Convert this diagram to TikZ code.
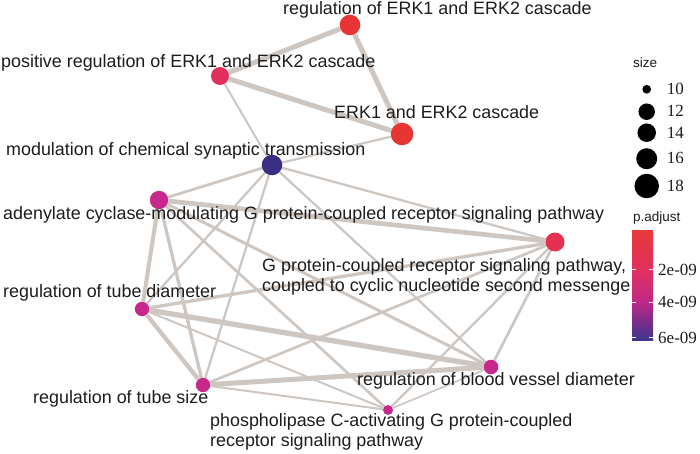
\documentclass[tikz,border=0pt]{standalone}
\usepackage{fontspec}
\setmainfont{Liberation Sans}
\newfontfamily\legserif{Liberation Serif}
\usetikzlibrary{backgrounds}
\definecolor{edgec}{RGB}{205,198,193}
\definecolor{txt}{RGB}{28,28,28}
\definecolor{cRed}{RGB}{232,52,52}
\definecolor{cRedB}{RGB}{229,54,50}
\definecolor{cPinkRed}{RGB}{226,48,92}
\definecolor{cGcyc}{RGB}{229,48,80}
\definecolor{cNavy}{RGB}{58,46,130}
\definecolor{cMag}{RGB}{198,40,140}
\definecolor{barA}{RGB}{232,56,56}
\definecolor{barB}{RGB}{224,48,96}
\definecolor{barC}{RGB}{190,40,135}
\definecolor{barD}{RGB}{120,45,140}
\definecolor{barE}{RGB}{62,55,140}
\begin{document}
\begin{tikzpicture}[x=1pt,y=-1pt,
  gnode/.style={circle,inner sep=0pt,draw=none},
  lab/.style={anchor=base west,inner sep=0pt,text=txt,font=\fontsize{17.9}{20}\selectfont},
  lnk/.style={draw=edgec,line width=#1},
  legtxt/.style={anchor=base west,inner sep=0pt,text=txt,font=\fontsize{13.5}{16}\selectfont},
  legnum/.style={anchor=base west,inner sep=0pt,text=txt,font=\legserif\fontsize{17}{20}\selectfont},
  legdot/.style={circle,inner sep=0pt,fill=black,draw=none}]
\useasboundingbox (0,0) rectangle (700,454);
% graph nodes
\node[gnode,minimum size=20.6pt,fill=cRed] (regERK) at (350,25) {};
\node[gnode,minimum size=18pt,fill=cPinkRed] (posERK) at (220,76) {};
\node[gnode,minimum size=22.6pt,fill=cRedB] (ERK) at (402,134) {};
\node[gnode,minimum size=20.6pt,fill=cNavy] (mod) at (272,165) {};
\node[gnode,minimum size=18.4pt,fill=cMag] (adenyl) at (159,200) {};
\node[gnode,minimum size=19pt,fill=cGcyc] (Gcyc) at (555,242) {};
\node[gnode,minimum size=14.4pt,fill=cMag] (tubeD) at (142,309) {};
\node[gnode,minimum size=14.4pt,fill=cMag] (tubeS) at (203,385) {};
\node[gnode,minimum size=14.6pt,fill=cMag] (blood) at (491,367) {};
\node[gnode,minimum size=10pt,fill=cMag] (phos) at (388,410) {};
% edges
\begin{pgfonlayer}{background}
\draw[lnk=5] (regERK) -- (posERK);
\draw[lnk=5] (regERK) -- (ERK);
\draw[lnk=5] (posERK) -- (ERK);
\draw[lnk=2] (posERK) -- (mod);
\draw[lnk=2.2] (ERK) -- (mod);
\draw[lnk=2.7] (mod) -- (adenyl);
\draw[lnk=2.3] (mod) -- (Gcyc);
\draw[lnk=2.3] (mod) -- (tubeD);
\draw[lnk=2.3] (mod) -- (tubeS);
\draw[lnk=2.3] (mod) -- (blood);
\draw[lnk=4.7] (adenyl) -- (Gcyc);
\draw[lnk=4] (adenyl) -- (tubeD);
\draw[lnk=3.3] (adenyl) -- (tubeS);
\draw[lnk=3] (adenyl) -- (blood);
\draw[lnk=2.7] (adenyl) -- (phos);
\draw[lnk=3.3] (tubeD) -- (Gcyc);
\draw[lnk=5.3] (tubeD) -- (blood);
\draw[lnk=4.3] (tubeD) -- (tubeS);
\draw[lnk=2] (tubeD) -- (phos);
\draw[lnk=2.7] (tubeS) -- (Gcyc);
\draw[lnk=5] (tubeS) -- (blood);
\draw[lnk=2] (tubeS) -- (phos);
\draw[lnk=2.7] (blood) -- (Gcyc);
\draw[lnk=2.3] (phos) -- (Gcyc);
\draw[lnk=1.7] (phos) -- (blood);
\end{pgfonlayer}
% labels
\node[lab] (lregERK) at (283,15) {regulation of ERK1 and ERK2 cascade};
\node[lab] (lposERK) at (1,68) {positive regulation of ERK1 and ERK2 cascade};
\node[lab] (lERK) at (334,119) {ERK1 and ERK2 cascade};
\node[lab] (lmod) at (6,156) {modulation of chemical synaptic transmission};
\node[lab] (ladenyl) at (3,219) {adenylate cyclase-modulating G protein-coupled receptor signaling pathway};
\node[lab,align=left] (lGcyc) at (262,291.7) {G protein-coupled receptor signaling pathway,\\coupled to cyclic nucleotide second messenge};
\node[lab] (ltubeD) at (3,297.7) {regulation of tube diameter};
\node[lab] (ltubeS) at (33,403.3) {regulation of tube size};
\node[lab] (lblood) at (357,385) {regulation of blood vessel diameter};
\node[lab,align=left] (lphos) at (210,446.7) {phospholipase C-activating G protein-coupled\\receptor signaling pathway};
% size legend
\node[legtxt] (lsize) at (633,68) {size};
\node[legdot,minimum size=8.7pt] (s10) at (646.7,89.3) {};
\node[legdot,minimum size=16.5pt] (s12) at (646.7,111.7) {};
\node[legdot,minimum size=18.5pt] (s14) at (646.7,132.7) {};
\node[legdot,minimum size=21pt] (s16) at (646.7,158.7) {};
\node[legdot,minimum size=24.5pt] (s18) at (646.7,186) {};
\node[legnum] (n10) at (666.7,95) {10};
\node[legnum] (n12) at (666.7,117) {12};
\node[legnum] (n14) at (666.7,139) {14};
\node[legnum] (n16) at (666.7,164) {16};
\node[legnum] (n18) at (666.7,192) {18};
% colour bar legend
\node[legtxt] (lpadj) at (633,221.5) {p.adjust};
\shade[top color=barA,bottom color=barB] (632,230) rectangle (653,270.5);
\shade[top color=barB,bottom color=barC] (632,270) rectangle (653,302.5);
\shade[top color=barC,bottom color=barD] (632,302) rectangle (653,322.5);
\shade[top color=barD,bottom color=barE] (632,322) rectangle (653,340);
\foreach \ty in {269.3,302,337}{
  \draw[white,line width=0.6pt] (632,\ty) -- (636,\ty);
  \draw[white,line width=0.6pt] (649,\ty) -- (653,\ty);
}
\node[legnum] (p2) at (658,275) {2e-09};
\node[legnum] (p4) at (658,307) {4e-09};
\node[legnum] (p6) at (658,343) {6e-09};
\end{tikzpicture}
\end{document}
